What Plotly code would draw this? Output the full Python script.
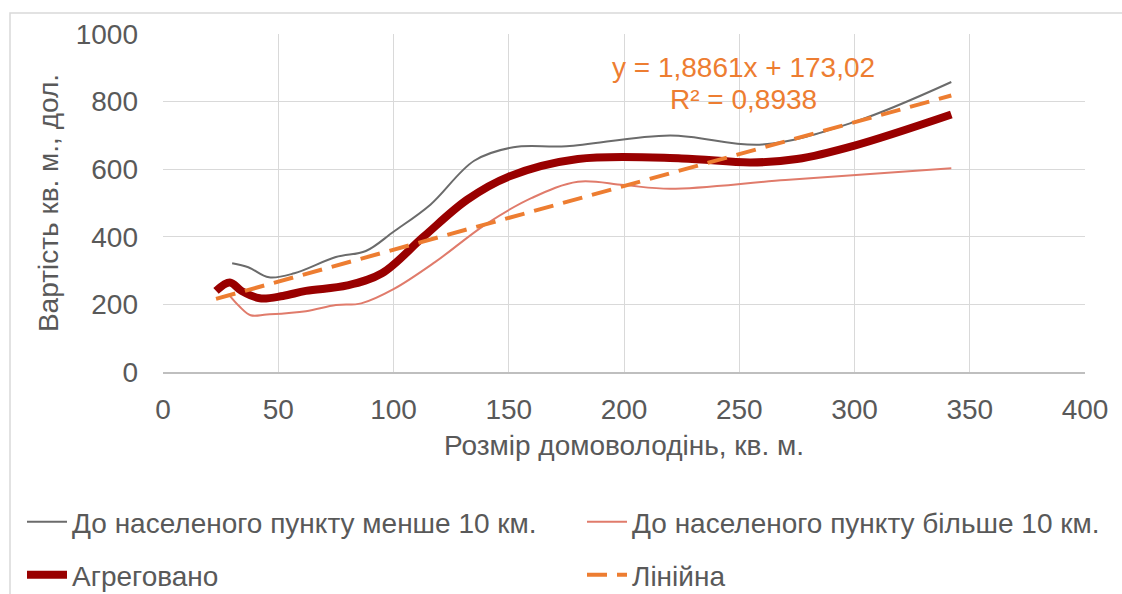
import plotly.graph_objects as go

# Sizes of homesteads (sq. m) and price per sq. m (USD)
near_x = [30, 37, 46, 57, 75, 88, 100, 116, 135, 152, 175, 220, 260, 300, 342]
near_y = [322, 310, 280, 292, 340, 358, 415, 495, 625, 665, 668, 700, 673, 740, 858]

far_x = [29, 33, 38, 45, 62, 75, 86, 100, 118, 140, 160, 180, 200, 220, 270, 342]
far_y = [225, 195, 168, 170, 180, 198, 203, 245, 325, 437, 515, 563, 553, 542, 568, 603]

agg_x = [23, 29, 34, 42, 52, 62, 80, 95, 113, 132, 150, 180, 225, 255, 275, 300, 342]
agg_y = [240, 265, 240, 218, 225, 240, 256, 292, 400, 510, 578, 630, 632, 620, 630, 670, 762]

# Linear trend of the aggregated series
slope = 1.8861
intercept = 173.02
r2 = 0.8938
trend_x = [agg_x[0], agg_x[-1]]
trend_y = [slope * v + intercept for v in trend_x]

names = [
    "До населеного пункту менше 10 км.",
    "До населеного пункту більше 10 км.",
    "Агреговано",
    "Лінійна",
]

FONT = "Liberation Sans, Arial, sans-serif"
TXT = "#595959"
ORANGE = "#ED7D31"

fig = go.Figure()
fig.add_trace(go.Scatter(x=near_x, y=near_y, name=names[0], mode="lines",
                         line=dict(color="#6b6b6b", width=2, shape="spline", smoothing=1.0),
                         legend="legend", showlegend=True))
fig.add_trace(go.Scatter(x=far_x, y=far_y, name=names[1], mode="lines",
                         line=dict(color="#E07B6B", width=2, shape="spline", smoothing=1.0),
                         legend="legend2", showlegend=True))
fig.add_trace(go.Scatter(x=agg_x, y=agg_y, name=names[2], mode="lines",
                         line=dict(color="#990000", width=8, shape="spline", smoothing=1.0),
                         legend="legend3", showlegend=True))
fig.add_trace(go.Scatter(x=trend_x, y=trend_y, name=names[3], mode="lines",
                         line=dict(color=ORANGE, width=4, dash="20px,10px"),
                         legend="legend4", showlegend=True))

fig.add_annotation(x=252, y=900, xref="x", yref="y", showarrow=False,
                   text=f"y = {str(slope).replace('.', ',')}x + {str(intercept).replace('.', ',')}",
                   font=dict(family=FONT, size=28, color=ORANGE))
fig.add_annotation(x=252, y=805, xref="x", yref="y", showarrow=False,
                   text=f"R² = {str(r2).replace('.', ',')}",
                   font=dict(family=FONT, size=28, color=ORANGE))

# Chart area frame
fig.add_shape(type="rect", xref="paper", yref="paper",
              x0=(10 - 163) / 922, x1=(1130 - 163) / 922,
              y0=(372 - 610) / 338, y1=(372 - 13) / 338,
              line=dict(color="#d9d9d9", width=1.5), layer="below")


def legend_at(px, py):
    return dict(orientation="h", xref="container", yref="container",
                x=px / 1122, y=(594 - py) / 594, xanchor="left", yanchor="middle",
                font=dict(family=FONT, size=28, color=TXT), bgcolor="rgba(0,0,0,0)",
                itemwidth=40, visible=True)


fig.update_layout(
    width=1122, height=594,
    showlegend=True,
    margin=dict(l=163, r=37, t=34, b=222, autoexpand=False),
    paper_bgcolor="white", plot_bgcolor="white",
    font=dict(family=FONT, size=28, color=TXT),
    legend=legend_at(22, 522),
    legend2=legend_at(582, 522),
    legend3=legend_at(22, 575),
    legend4=legend_at(582, 575),
    xaxis=dict(range=[0, 400], dtick=50, showgrid=True, gridcolor="#d9d9d9", gridwidth=1,
               zeroline=False, showline=True, linecolor="#bfbfbf", linewidth=1.5,
               ticks="", ticklabelstandoff=12, tickfont=dict(size=28, color=TXT),
               title=dict(text="Розмір домоволодінь, кв. м.", standoff=11,
                          font=dict(size=28, color=TXT))),
    yaxis=dict(range=[0, 1000], dtick=200, showgrid=True, gridcolor="#d9d9d9", gridwidth=1,
               zeroline=False, showline=False, ticks="", ticklabelstandoff=24,
               tickfont=dict(size=28, color=TXT),
               title=dict(text="Вартість кв. м., дол.", standoff=8,
                          font=dict(size=28, color=TXT))),
)

fig.write_html("out.html")
